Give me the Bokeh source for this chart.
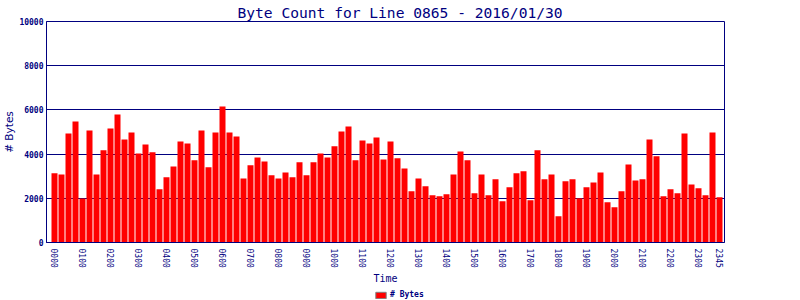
from bokeh.plotting import figure
from bokeh.layouts import column
from bokeh.models import FixedTicker, Range1d, Legend, LegendItem, ColumnDataSource
from bokeh.embed import file_html
from bokeh.resources import INLINE

title_text = "Byte Count for Line 0865 - 2016/01/30"
series_name = "# Bytes"

bytes_values = [3130, 3080, 4930, 5470, 1990, 5070, 3080, 4170, 5160, 5790,
                4660, 4980, 4030, 4440, 4080, 2410, 2950, 3440, 4570, 4480,
                3720, 5070, 3400, 4980, 6150, 4980, 4800, 2900, 3490, 3850,
                3670, 3040, 2900, 3170, 2950, 3630, 3040, 3630, 4030, 3850,
                4350, 5020, 5250, 3720, 4620, 4480, 4750, 3760, 4570, 3810,
                3350, 2320, 2900, 2540, 2140, 2090, 2180, 3080, 4120, 3720,
                2230, 3080, 2140, 2860, 1870, 2500, 3130, 3220, 1910, 4170,
                2860, 3080, 1190, 2770, 2860, 2000, 2500, 2720, 3170, 1820,
                1590, 2320, 3530, 2810, 2860, 4660, 3900, 2090, 2410, 2230,
                4930, 2630, 2450, 2140, 4980, 2050]

times = ["%02d%02d" % (h, m) for h in range(24) for m in (0, 15, 30, 45)]
tick_labels = ["0000", "0100", "0200", "0300", "0400", "0500", "0600", "0700",
               "0800", "0900", "1000", "1100", "1200", "1300", "1400", "1500",
               "1600", "1700", "1800", "1900", "2000", "2100", "2200", "2300", "2345"]
y_ticks = [0, 2000, 4000, 6000, 8000, 10000]

NAVY = "#000080"
MONO = "DejaVu Sans Mono"

x_idx = list(range(len(bytes_values)))
src = ColumnDataSource(dict(x=x_idx, y=bytes_values, t=times))

p = figure(width=800, height=288, output_backend="svg", toolbar_location=None,
           x_range=Range1d(-8 / 7, -8 / 7 + 678 / 7), y_range=Range1d(0, 10000),
           min_border_left=46, min_border_right=76, min_border_top=20, min_border_bottom=46)

p.vbar(x="x", top="y", width=6 / 7, source=src, fill_color="#FF0000", line_color=None)

p.title.text = title_text
p.title.align = "left"
p.title.offset = 191
p.title.text_font = MONO
p.title.text_font_size = "14.6px"
p.title.text_font_style = "normal"
p.title.text_color = NAVY
p.title.text_line_height = 1.0
p.title.standoff = 2

tick_pos = [times.index(t) for t in tick_labels]
p.xaxis.ticker = FixedTicker(ticks=tick_pos)
p.xaxis.major_label_overrides = {pos: lab for pos, lab in zip(tick_pos, tick_labels)}
p.xaxis.major_label_orientation = "vertical"
p.xaxis.major_label_text_font = MONO
p.xaxis.major_label_text_font_size = "8px"
p.xaxis.major_label_text_color = NAVY
p.xaxis.major_label_standoff = 6
p.xaxis.major_tick_out = 0
p.xaxis.major_tick_in = 0
p.xaxis.minor_tick_out = 0
p.xaxis.minor_tick_in = 0
p.xaxis.axis_label = "Time"
p.xaxis.axis_label_text_font = MONO
p.xaxis.axis_label_text_font_size = "10px"
p.xaxis.axis_label_text_font_style = "normal"
p.xaxis.axis_label_text_color = NAVY
p.xaxis.axis_label_standoff = 2
p.xaxis.axis_line_color = NAVY
p.xaxis.axis_line_width = 1

p.yaxis.ticker = FixedTicker(ticks=y_ticks)
p.yaxis.major_label_text_font = MONO
p.yaxis.major_label_text_font_size = "8px"
p.yaxis.major_label_text_font_style = "bold"
p.yaxis.major_label_text_color = NAVY
p.yaxis.major_label_standoff = 3
p.yaxis.major_tick_out = 0
p.yaxis.major_tick_in = 0
p.yaxis.minor_tick_out = 0
p.yaxis.minor_tick_in = 0
p.yaxis.axis_label = series_name
p.yaxis.axis_label_text_font = "DejaVu Sans"
p.yaxis.axis_label_text_font_size = "10.5px"
p.yaxis.axis_label_text_font_style = "normal"
p.yaxis.axis_label_text_color = NAVY
p.yaxis.axis_label_standoff = 1
p.yaxis.axis_line_color = NAVY

p.xgrid.grid_line_color = None
p.ygrid.ticker = FixedTicker(ticks=y_ticks)
p.ygrid.grid_line_color = NAVY
p.ygrid.grid_line_width = 1
p.ygrid.level = "underlay"

p.outline_line_color = NAVY
p.outline_line_alpha = 1.0
p.outline_line_width = 1
p.background_fill_color = "white"
p.border_fill_color = "white"

# small strip below the chart that holds the legend (its frame is aligned with the chart's)
lg = figure(width=800, height=12, output_backend="svg", toolbar_location=None,
            x_range=Range1d(0, 1), y_range=Range1d(0, 1),
            min_border_left=0, min_border_right=0, min_border_top=0, min_border_bottom=0)
lg.axis.visible = False
lg.grid.visible = False
lg.outline_line_color = None
lg.background_fill_color = "white"
lg.border_fill_color = "white"
swatch = lg.vbar(x="x", top="y", width=6 / 7, source=src,
                 fill_color="#FF0000", line_color="#808080", line_width=1)
swatch.visible = False  # only its legend swatch is shown

legend = Legend(items=[LegendItem(label=series_name, renderers=[swatch], index=0)],
                location=(328, 1), orientation="horizontal",
                padding=0, margin=0, spacing=0,
                glyph_width=13, glyph_height=8, label_standoff=3,
                label_text_font=MONO, label_text_font_size="8px",
                label_text_font_style="bold", label_text_color=NAVY,
                label_height=8, border_line_color=None, background_fill_alpha=0,
                inactive_fill_alpha=0)
lg.add_layout(legend)

layout = column(p, lg, spacing=0)
open("out.html", "w").write(file_html(layout, INLINE))
